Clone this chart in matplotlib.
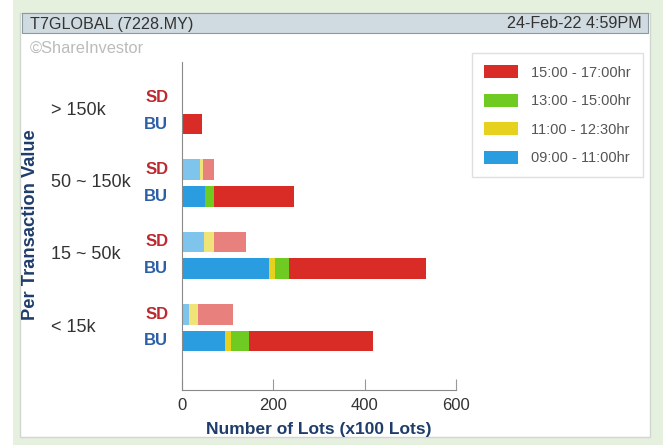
import matplotlib.pyplot as plt
from matplotlib.patches import Rectangle

plt.rcParams['font.family'] = ['Liberation Sans', 'DejaVu Sans']

# data (x100 lots), top to bottom
categories = ['> 150k', '50 ~ 150k', '15 ~ 50k', '< 15k']
sessions = ['09:00 - 11:00hr', '11:00 - 12:30hr', '13:00 - 15:00hr', '15:00 - 17:00hr']
colors = ['#2a9de0', '#e6d11e', '#6fcb22', '#d92c26']

bu_0900 = [0, 51, 190, 94]
bu_1100 = [0, 0, 13, 13]
bu_1300 = [0, 20, 32, 39]
bu_1500 = [44, 174, 300, 272]

sd_0900 = [0, 39, 48, 16]
sd_1100 = [0, 6, 23, 18]
sd_1300 = [0, 0, 0, 0]
sd_1500 = [0, 26, 70, 78]

bu = [bu_0900, bu_1100, bu_1300, bu_1500]
sd = [sd_0900, sd_1100, sd_1300, sd_1500]

W, H = 663, 445
fig = plt.figure(figsize=(W / 100, H / 100), dpi=100)
fig.patch.set_facecolor('white')

# background frame
fig.add_artist(Rectangle((13 / W, 0), 650 / W, 1, transform=fig.transFigure,
                         facecolor='#e6f0df', edgecolor='none', zorder=-3))
fig.add_artist(Rectangle((20 / W, 8 / H), 630 / W, 424 / H, transform=fig.transFigure,
                         facecolor='white', edgecolor='#d0d6d0', lw=1, zorder=-2))
fig.add_artist(Rectangle((22 / W, 412 / H), 626 / W, 20 / H, transform=fig.transFigure,
                         facecolor='#cfdbe0', edgecolor='#8a9aa0', lw=0.8, zorder=-1))
fig.text(30 / W, 421 / H, 'T7GLOBAL (7228.MY)', fontsize=11.6, color='#333333', va='center')
fig.text(642 / W, 421 / H, '24-Feb-22 4:59PM', fontsize=11.6, color='#333333', va='center', ha='right')
fig.text(30 / W, 397 / H, '©ShareInvestor', fontsize=11.8, color='#bbbbbb', va='center')

# axes: x 182..456 px, y 62..390 px
ax = fig.add_axes([182 / W, 55 / H, 274 / W, 328 / H])
ax.set_facecolor('none')

h = 0.285
ypos_bu = [k for k in range(len(categories))]
ypos_sd = [k - 0.369 for k in range(len(categories))]

left_bu = [0] * 4
left_sd = [0] * 4
for i in range(4):
    ax.barh(ypos_bu, bu[i], left=left_bu, height=h, color=colors[i], label=sessions[i])
    ax.barh(ypos_sd, sd[i], left=left_sd, height=h, color=colors[i], alpha=0.6)
    left_bu = [a + b for a, b in zip(left_bu, bu[i])]
    left_sd = [a + b for a, b in zip(left_sd, sd[i])]

ax.set_xlim(0, 600)
ax.set_ylim(3.679, -0.858)
ax.set_xticks([0, 200, 400, 600])
ax.set_yticks([])
ax.tick_params(axis='x', direction='in', length=8, colors='#999999', labelcolor='#333333',
               labelsize=12, pad=6)
for s in ['top', 'right']:
    ax.spines[s].set_visible(False)
ax.spines['left'].set_color('#8a8a8a')
ax.spines['bottom'].set_color('#8a8a8a')
ax.set_xlabel('Number of Lots (x100 Lots)', fontsize=12.5, fontweight='bold', color='#1f3d6b', labelpad=6)

for k, cat in enumerate(categories):
    ax.text(-30, ypos_sd[k], 'SD', ha='right', va='center', fontsize=12,
            fontweight='bold', color='#bb2a30')
    ax.text(-30, ypos_bu[k], 'BU', ha='right', va='center', fontsize=12,
            fontweight='bold', color='#2c5fa8')
    ax.text(-287, ypos_bu[k] - 0.19, cat, ha='left', va='center', fontsize=13, color='#333333')

fig.text(31 / W, 220 / H, 'Per Transaction Value', rotation=90, fontsize=13.2, fontweight='bold',
         color='#1f3d6b', ha='center', va='center')

handles, labels = ax.get_legend_handles_labels()
leg = ax.legend(handles[::-1], labels[::-1], loc='upper left', bbox_to_anchor=(472 / W, 392 / H),
                bbox_transform=fig.transFigure, borderaxespad=0, fontsize=10.5, frameon=True,
                fancybox=False, edgecolor='#d8d8d8', handlelength=2.3, handleheight=1.0,
                labelspacing=0.95, borderpad=0.85, handletextpad=0.9, labelcolor='#555555')
leg.get_frame().set_linewidth(1)

fig.savefig('out.png', dpi=100)
